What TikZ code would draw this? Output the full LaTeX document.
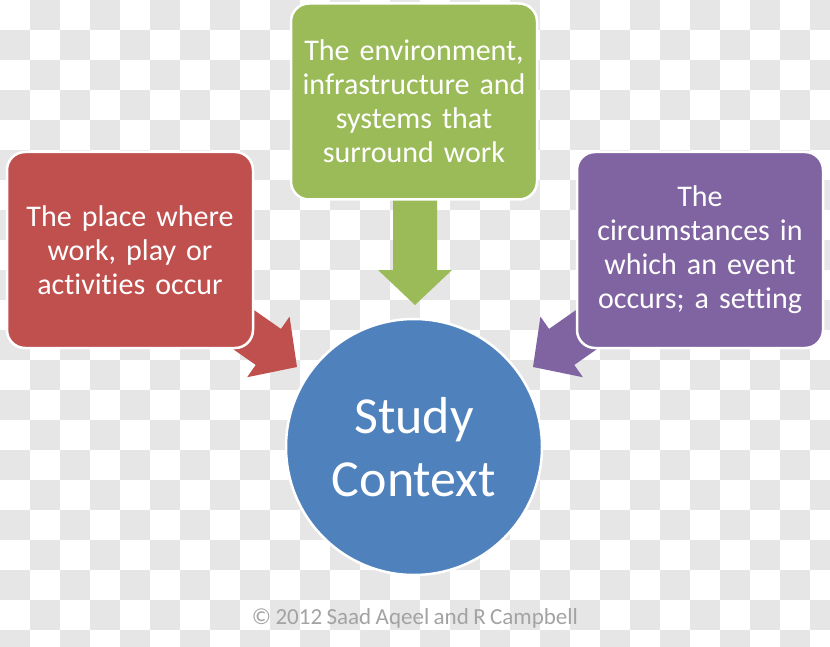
\documentclass[tikz,border=0pt]{standalone}
\usepackage{fontspec}
\setmainfont{Carlito}[Ligatures=NoCommon, WordSpace={0.85,0,0}]
\definecolor{redc}{HTML}{C0504D}
\definecolor{greenc}{HTML}{9BBB59}
\definecolor{purplec}{HTML}{8064A2}
\definecolor{bluec}{HTML}{4F81BD}
\definecolor{checkgrey}{HTML}{E6E6E6}
\definecolor{copygrey}{HTML}{A3A3A3}
\tikzset{
  infobox/.style={rounded corners=18pt, draw=white, line width=2.5pt,
    minimum width=246pt, minimum height=196pt, text width=236pt, align=center,
    text=white, font=\fontsize{30}{34}\selectfont},
  hubcircle/.style={circle, draw=white, line width=2.5pt, minimum size=256pt,
    fill=bluec, text=white, align=center, font=\fontsize{52}{63}\selectfont},
  copynote/.style={text=copygrey, font=\fontsize{23}{28}\selectfont}
}
\begin{document}
\begin{tikzpicture}[x=1pt,y=-1pt]
\useasboundingbox (0,0) rectangle (830,647);
% checkerboard background
\fill[white] (0,0) rectangle (830,647);
\begin{scope}
\clip (0,0) rectangle (830,647);
\foreach \i in {0,...,27}{
  \foreach \j in {0,...,21}{
    \pgfmathtruncatemacro\oddcell{mod(\i+\j,2)}
    \ifnum\oddcell=1
      \fill[checkgrey] (30*\i,30*\j) rectangle +(30,30);
    \fi
  }
}
\end{scope}
% arrow tips
\coordinate (rtip) at (297,367);
\coordinate (gtip) at (415,305);
\coordinate (ptip) at (533,367);
% block arrows (drawn beneath the boxes)
\fill[redc, shift={(rtip)}, rotate=-35]
  (0,0) -- (-35,37) -- (-35,22) -- (-125,22) -- (-125,-22) -- (-35,-22) -- (-35,-37) -- cycle;
\fill[greenc, shift={(gtip)}, rotate=-90]
  (0,0) -- (-35,37) -- (-35,22) -- (-120,22) -- (-120,-22) -- (-35,-22) -- (-35,-37) -- cycle;
\fill[purplec, shift={(ptip)}, rotate=-145]
  (0,0) -- (-35,37) -- (-35,22) -- (-125,22) -- (-125,-22) -- (-35,-22) -- (-35,-37) -- cycle;
% boxes
\node[infobox, fill=redc] (place) at (130,250) {The place where\\work, play or\\activities occur};
\node[infobox, fill=greenc] (env) at (414,101.5) {The environment,\\infrastructure and\\systems that\\surround work};
\node[infobox, fill=purplec] (circ) at (700,250) {The\\circumstances in\\which an event\\occurs; a setting};
% hub
\node[hubcircle] (hub) at (414,447) {Study\\Context};
% copyright
\node[copynote] (copy) at (415,618) {© 2012 Saad Aqeel and R Campbell};
\end{tikzpicture}
\end{document}
